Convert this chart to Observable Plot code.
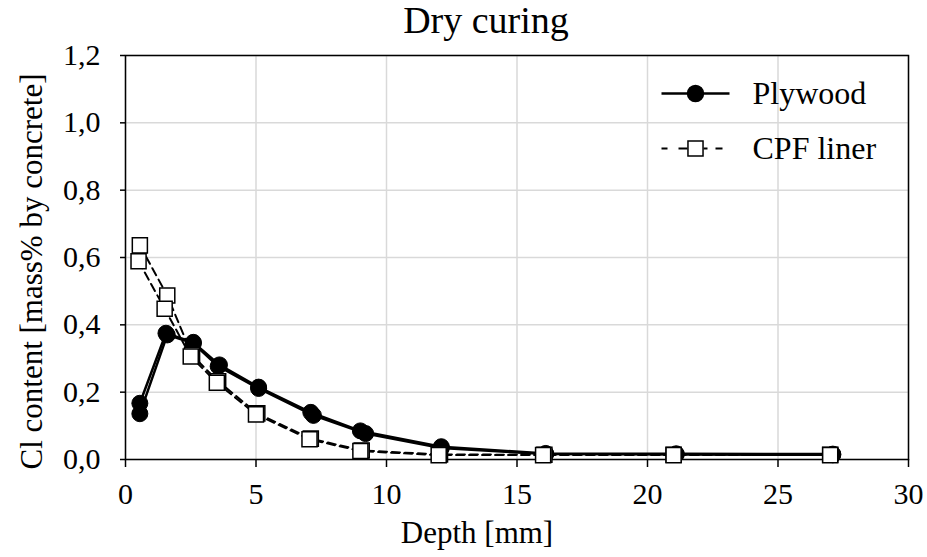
<!DOCTYPE html>
<html>
<head>
<meta charset="utf-8">
<script src="https://cdn.jsdelivr.net/npm/d3@7"></script>
<script src="https://cdn.jsdelivr.net/npm/@observablehq/plot@0.6"></script>
<style>
  body { margin: 0; background: #fff; }
  #chart { width: 927px; }
  #title {
    width: 927px; height: 40px; box-sizing: border-box; padding-left: 45px;
    font-family: "Liberation Serif", "Times New Roman", serif;
    font-size: 38px; line-height: 40px; text-align: center; color: #000;
  }
  #chart svg, #chart svg text {
    font-family: "Liberation Serif", "Times New Roman", serif !important;
  }
</style>
</head>
<body>
<div id="chart"><div id="title"></div></div>
<script>
// ---- chart text ----
const chartTitle = "Dry curing";
const xLabel = "Depth [mm]";
const yLabel = "Cl content [mass% by concrete]";
const seriesNames = ["Plywood", "CPF liner"];

// ---- tick values ----
const xTicks = [0, 5, 10, 15, 20, 25, 30];
const yTicks = [0, 0.2, 0.4, 0.6, 0.8, 1.0, 1.2];

// ---- data (two replicate profiles per formwork type) ----
const depthPlywoodA = [0.55, 1.55, 2.6, 3.6, 5.1, 7.1, 9.0, 12.1, 16.1, 21.1, 27.1];
const clPlywoodA    = [0.167, 0.375, 0.348, 0.281, 0.215, 0.140, 0.085, 0.038, 0.018, 0.017, 0.016];
const depthPlywoodB = [0.55, 1.6, 2.6, 3.55, 5.1, 7.2, 9.2, 12.1, 16.1, 21.1, 27.1];
const clPlywoodB    = [0.136, 0.370, 0.345, 0.277, 0.211, 0.131, 0.077, 0.034, 0.016, 0.015, 0.014];
const depthCpfA = [0.55, 1.6, 2.55, 3.55, 5.05, 7.1, 9.05, 12.05, 16.05, 21.0, 27.0];
const clCpfA    = [0.636, 0.487, 0.310, 0.232, 0.137, 0.062, 0.027, 0.015, 0.014, 0.014, 0.014];
const depthCpfB = [0.5, 1.5, 2.5, 3.5, 5.0, 7.05, 9.0, 12.0, 16.0, 21.0, 27.0];
const clCpfB    = [0.589, 0.448, 0.306, 0.228, 0.134, 0.060, 0.025, 0.013, 0.013, 0.013, 0.013];

// ---- build tables ----
function rows(series, rep, xs, ys) {
  return xs.map((x, i) => ({series, rep, x, y: ys[i]}));
}
const plywood = [
  ...rows(seriesNames[0], "A", depthPlywoodA, clPlywoodA),
  ...rows(seriesNames[0], "B", depthPlywoodB, clPlywoodB)
];
const cpf = [
  ...rows(seriesNames[1], "A", depthCpfA, clCpfA),
  ...rows(seriesNames[1], "B", depthCpfB, clCpfB)
];

document.getElementById("title").textContent = chartTitle;

const FONT = "Liberation Serif, Times New Roman, serif";
const fmtY = d => d.toFixed(1).replace(".", ",");

// legend glyphs (line samples drawn as custom symbols)
const solidSample = {draw(ctx) { ctx.moveTo(-34, 0); ctx.lineTo(34, 0); }};
const dashSample = {draw(ctx) {
  ctx.moveTo(-34, 0); ctx.lineTo(-28, 0);
  ctx.moveTo(-17, 0); ctx.lineTo(-8, 0);
  ctx.moveTo(8, 0); ctx.lineTo(12, 0);
  ctx.moveTo(20, 0); ctx.lineTo(27, 0);
}};

const chart = Plot.plot({
  width: 927,
  height: 517,
  marginTop: 15,
  marginBottom: 98,
  marginLeft: 125,
  marginRight: 19,
  style: {color: "#000", background: "#fff", overflow: "visible"},
  x: {domain: [0, 30]},
  y: {domain: [0, 1.2]},
  marks: [
    Plot.gridX(xTicks, {stroke: "#d9d9d9", strokeOpacity: 1, strokeWidth: 1.5}),
    Plot.gridY(yTicks, {stroke: "#d9d9d9", strokeOpacity: 1, strokeWidth: 1.5}),
    Plot.frame({stroke: "#000", strokeWidth: 1.5}),
    Plot.axisX(xTicks, {tickSize: 8, tickPadding: 15, fontSize: 30, strokeWidth: 1.5, label: null, fontFamily: FONT}),
    Plot.axisY(yTicks, {tickSize: 5, tickPadding: 20, fontSize: 30, strokeWidth: 1.5, label: null, tickFormat: fmtY, fontFamily: FONT}),

    // Plywood
    Plot.line(plywood, {x: "x", y: "y", z: "rep", stroke: "#000", strokeWidth: 2.5}),
    Plot.dot(plywood, {x: "x", y: "y", r: 8, fill: "#000", stroke: "#000", strokeWidth: 1}),
    // CPF liner
    Plot.line(cpf, {x: "x", y: "y", z: "rep", stroke: "#000", strokeWidth: 2, strokeDasharray: "8,5"}),
    Plot.dot(cpf, {x: "x", y: "y", symbol: "square", r: 8.5, fill: "#fff", stroke: "#000", strokeWidth: 1.5}),

    // axis titles
    Plot.text([xLabel], {frameAnchor: "bottom", lineAnchor: "middle", textAnchor: "middle", dx: -40, dy: 74, fontSize: 31, fontFamily: FONT, fill: "#000"}),
    Plot.text([yLabel], {frameAnchor: "left", lineAnchor: "middle", textAnchor: "middle", rotate: -90, dx: -93, dy: 14, fontSize: 31, fontFamily: FONT, fill: "#000"}),

    // legend
    Plot.dot([seriesNames[0]], {frameAnchor: "top-right", dx: -213, dy: 38, symbol: solidSample, fill: "none", stroke: "#000", strokeWidth: 2.5}),
    Plot.dot([seriesNames[0]], {frameAnchor: "top-right", dx: -213, dy: 38, r: 8, fill: "#000", stroke: "#000"}),
    Plot.text([seriesNames[0]], {frameAnchor: "top-right", lineAnchor: "middle", dx: -156, dy: 38, textAnchor: "start", fontSize: 32, fontFamily: FONT, fill: "#000"}),
    Plot.dot([seriesNames[1]], {frameAnchor: "top-right", dx: -213, dy: 93, symbol: dashSample, fill: "none", stroke: "#000", strokeWidth: 2}),
    Plot.dot([seriesNames[1]], {frameAnchor: "top-right", dx: -213, dy: 93, symbol: "square", r: 8.5, fill: "#fff", stroke: "#000", strokeWidth: 1.5}),
    Plot.text([seriesNames[1]], {frameAnchor: "top-right", lineAnchor: "middle", dx: -156, dy: 93, textAnchor: "start", fontSize: 32, fontFamily: FONT, fill: "#000"})
  ]
});
document.getElementById("chart").appendChild(chart);
</script>
</body>
</html>
